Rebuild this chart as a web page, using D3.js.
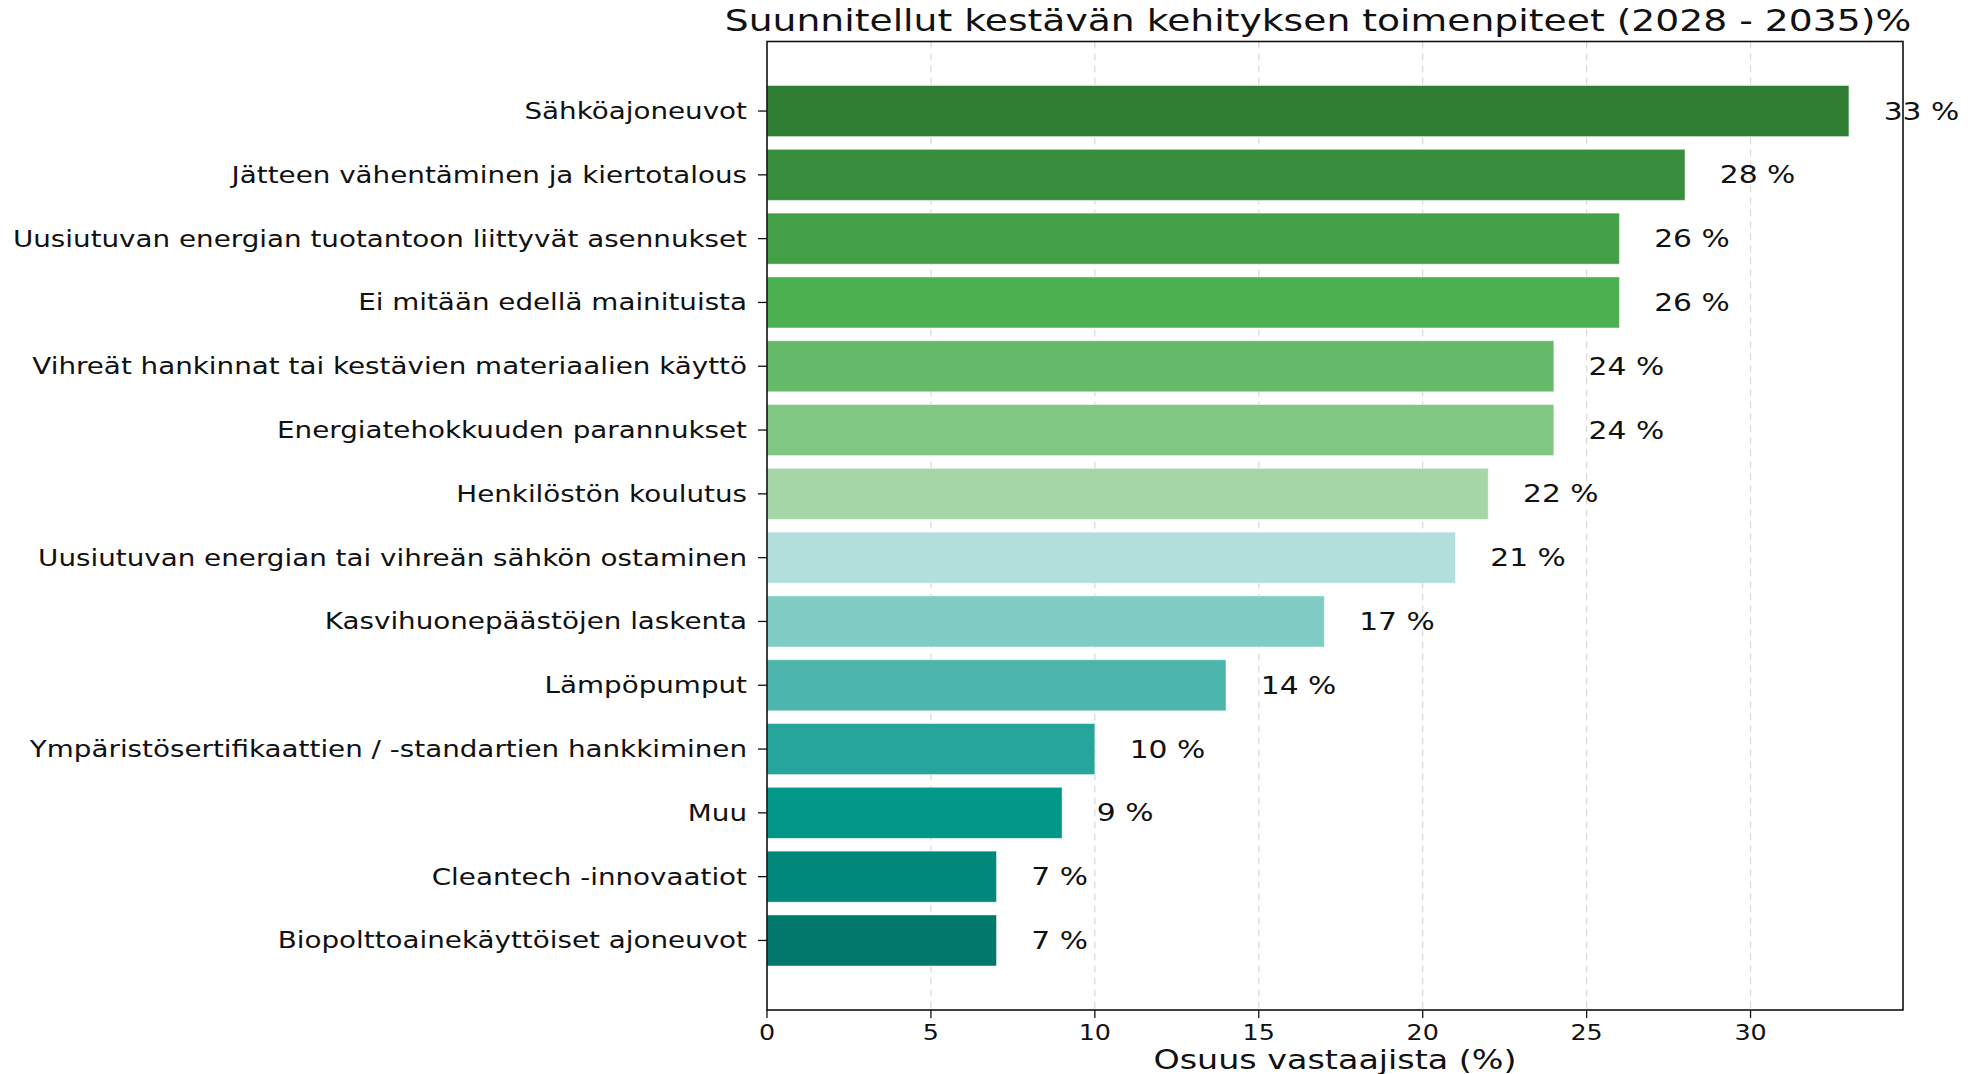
<!DOCTYPE html>
<html>
<head>
<meta charset="utf-8">
<script src="https://cdn.jsdelivr.net/npm/d3@7"></script>
<style>
  body { margin: 0; background: #fff; }
  text { font-family: "DejaVu Sans", sans-serif; fill: #111; }
</style>
</head>
<body>
<svg id="vis" width="1972" height="1074"></svg>
<script>
// chart data
const categories = [
    "Sähköajoneuvot",
    "Jätteen vähentäminen ja kiertotalous",
    "Uusiutuvan energian tuotantoon liittyvät asennukset",
    "Ei mitään edellä mainituista",
    "Vihreät hankinnat tai kestävien materiaalien käyttö",
    "Energiatehokkuuden parannukset",
    "Henkilöstön koulutus",
    "Uusiutuvan energian tai vihreän sähkön ostaminen",
    "Kasvihuonepäästöjen laskenta",
    "Lämpöpumput",
    "Ympäristösertifikaattien / -standartien hankkiminen",
    "Muu",
    "Cleantech -innovaatiot",
    "Biopolttoainekäyttöiset ajoneuvot"
];
const values = [33, 28, 26, 26, 24, 24, 22, 21, 17, 14, 10, 9, 7, 7];
const barColors = ["#2e7d32", "#388e3c", "#43a047", "#4caf50", "#66bb6a", "#81c784", "#a5d6a7",
                   "#b2dfdb", "#80cbc4", "#4db6ac", "#26a69a", "#009688", "#00897b", "#00796b"];
const xTicks = [0, 5, 10, 15, 20, 25, 30];
const title = "Suunnitellut kestävän kehityksen toimenpiteet (2028 - 2035)%";
const xTitle = "Osuus vastaajista (%)";

function draw() {
    let svg = d3.select("#vis");
    let plot = {left: 767, right: 1903, top: 41.5, bottom: 1010};
    let sx = 1.24; // reference is stretched horizontally

    let x = d3.scaleLinear()
        .domain([0, d3.max(values) * 1.05])
        .range([plot.left, plot.right]);
    let y = d3.scaleBand()
        .domain(categories)
        .range([plot.top, plot.bottom])
        .paddingInner(0.2)
        .paddingOuter(0.69);

    function label(g, px, py, txt, size, anchor) {
        return g.append("text")
            .attr("transform", `translate(${px},${py}) scale(${sx},1)`)
            .attr("text-anchor", anchor)
            .style("font-size", size + "px")
            .text(txt);
    }

    // grid
    svg.append("g").selectAll("line")
        .data(xTicks.slice(1))
        .enter().append("line")
            .attr("x1", d => x(d)).attr("x2", d => x(d))
            .attr("y1", plot.top).attr("y2", plot.bottom)
            .attr("stroke", "#d9d9d9")
            .attr("stroke-width", 1.2)
            .attr("stroke-dasharray", "7,5");

    // bars
    svg.append("g").selectAll("rect")
        .data(categories)
        .enter().append("rect")
            .attr("x", x(0))
            .attr("y", d => y(d))
            .attr("width", (d, i) => x(values[i]) - x(0))
            .attr("height", y.bandwidth())
            .attr("fill", (d, i) => barColors[i])
            .attr("stroke", "rgba(255,255,255,0.45)")
            .attr("stroke-width", 1);

    // value labels
    let vl = svg.append("g");
    categories.forEach((c, i) => {
        label(vl, x(values[i] + 1) + 2, y(c) + y.bandwidth() / 2 + 8.5, values[i] + " %", 24, "start");
    });

    // frame
    svg.append("rect")
        .attr("x", plot.left).attr("y", plot.top)
        .attr("width", plot.right - plot.left)
        .attr("height", plot.bottom - plot.top)
        .attr("fill", "none")
        .attr("stroke", "#111")
        .attr("stroke-width", 1.6);

    // y axis ticks + labels
    let ya = svg.append("g");
    categories.forEach((c) => {
        let cy = y(c) + y.bandwidth() / 2;
        ya.append("line")
            .attr("x1", plot.left - 9).attr("x2", plot.left)
            .attr("y1", cy).attr("y2", cy)
            .attr("stroke", "#111").attr("stroke-width", 1.3);
        label(ya, plot.left - 20, cy + 8, c, 22.4, "end");
    });

    // x axis ticks + labels
    let xa = svg.append("g");
    xTicks.forEach((t) => {
        xa.append("line")
            .attr("x1", x(t)).attr("x2", x(t))
            .attr("y1", plot.bottom).attr("y2", plot.bottom + 8)
            .attr("stroke", "#111").attr("stroke-width", 1.3);
        label(xa, x(t), 1040, t, 20.5, "middle");
    });

    label(svg, (plot.left + plot.right) / 2, 1069, xTitle, 26.9, "middle");
    label(svg, 1318, 31, title, 30.4, "middle");
}

document.addEventListener('DOMContentLoaded', () => {
    draw();
})
</script>
</body>
</html>
